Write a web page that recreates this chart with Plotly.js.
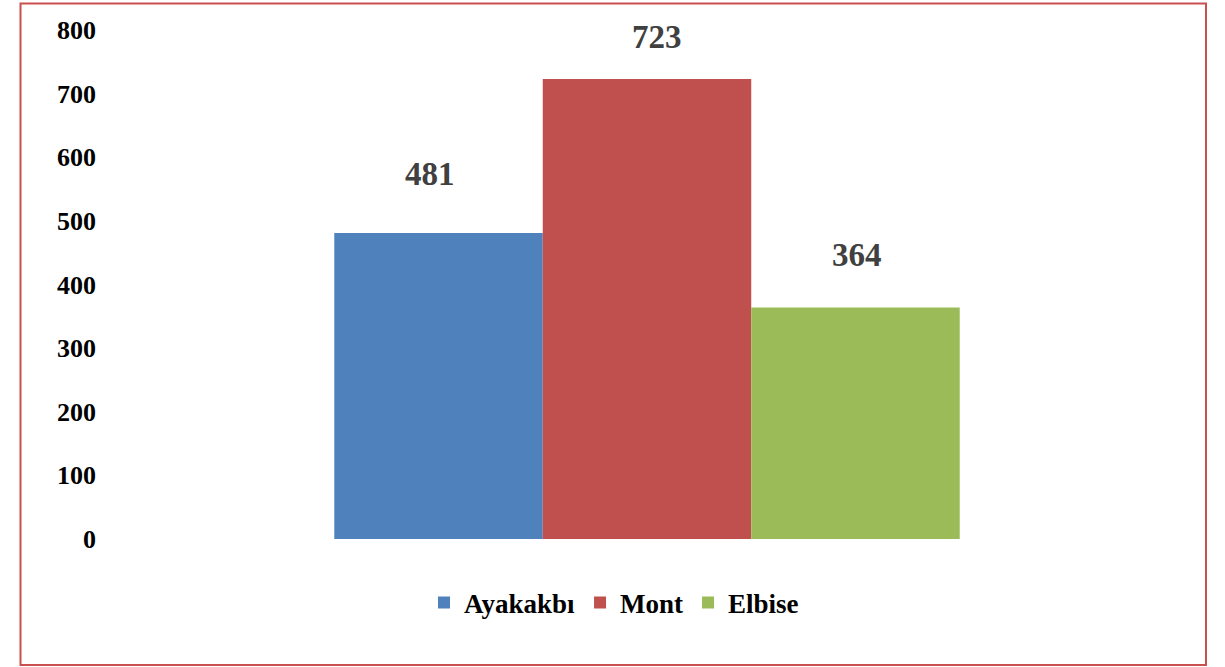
<!DOCTYPE html>
<html>
<head>
<meta charset="utf-8">
<script src="https://cdn.plot.ly/plotly-3.0.1.min.js"></script>
<style>
html,body{margin:0;padding:0;background:#fff;}
#chart{width:1225px;height:667px;}
</style>
</head>
<body>
<div id="chart"></div>
<script>
const categories = [''];
const seriesNames = ['Ayakakbı', 'Mont', 'Elbise'];
const seriesValues = [481, 723, 364];
const tickValues = [0, 100, 200, 300, 400, 500, 600, 700, 800];
const tickLabels = ['0', '100', '200', '300', '400', '500', '600', '700', '800'];

const colors = ['#4F81BD', '#C0504D', '#9BBB59'];
const labelShiftY = [39, 22, 32];
const labelShiftX = [-9, 10, 2];
const FONT = '"Liberation Serif", "Times New Roman", serif';

const traces = seriesNames.map((name, i) => ({
  type: 'bar',
  name: name,
  x: categories,
  y: [seriesValues[i]],
  marker: {color: colors[i]},
  hoverinfo: 'none'
}));

const n = seriesNames.length;
const gap = 0.423;
const groupWidth = 1 - gap;
const annotations = seriesValues.map((v, i) => ({
  x: -0.5 + gap / 2 + groupWidth * (i + 0.5) / n,
  xref: 'x',
  y: v,
  yref: 'y',
  text: String(v),
  showarrow: false,
  yanchor: 'bottom',
  yshift: labelShiftY[i],
  xshift: labelShiftX[i],
  font: {family: FONT, size: 33, color: '#404040', weight: 'bold'}
}));

const W = 1225, H = 667, L = 105, R = 36, T = 30, B = 128;
const pw = W - L - R, ph = H - T - B;
const px = p => (p - L) / pw;
const py = p => (H - B - p) / ph;

const layout = {
  width: W, height: H,
  margin: {l: L, r: R, t: T, b: B},
  paper_bgcolor: '#ffffff',
  plot_bgcolor: '#ffffff',
  barmode: 'group',
  bargap: gap,
  bargroupgap: 0,
  font: {family: FONT, color: '#000000'},
  xaxis: {
    type: 'category',
    showticklabels: false,
    showgrid: false,
    zeroline: false,
    showline: false,
    ticks: ''
  },
  yaxis: {
    range: [0, 800],
    tickvals: tickValues,
    ticktext: tickLabels,
    showgrid: false,
    zeroline: false,
    showline: false,
    ticks: '',
    ticklabelstandoff: 8,
    tickfont: {family: FONT, size: 26, color: '#000000', weight: 'bold'}
  },
  showlegend: true,
  legend: {
    orientation: 'h',
    x: px(614), xanchor: 'center',
    y: py(603), yanchor: 'middle',
    font: {family: FONT, size: 27, color: '#000000', weight: 'bold'},
    itemwidth: 30,
    traceorder: 'normal'
  },
  annotations: annotations,
  shapes: [{
    type: 'rect',
    xref: 'paper', yref: 'paper',
    x0: px(20.5), x1: px(1206),
    y0: py(665), y1: py(3.5),
    line: {color: '#C9504D', width: 2},
    fillcolor: 'rgba(0,0,0,0)',
    layer: 'above'
  }]
};

Plotly.newPlot('chart', traces, layout, {staticPlot: true, displayModeBar: false});
</script>
</body>
</html>
